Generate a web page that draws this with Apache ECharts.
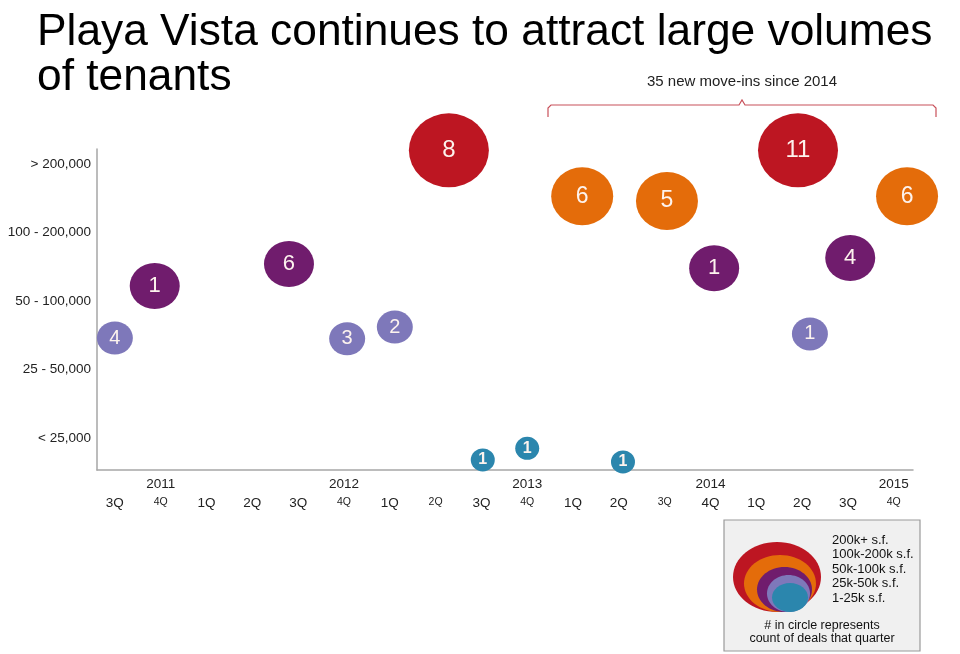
<!DOCTYPE html>
<html>
<head>
<meta charset="utf-8">
<title>Playa Vista tenants</title>
<style>
  html, body { margin: 0; padding: 0; background: #fff; }
  #chart { width: 960px; height: 654px; }
</style>
</head>
<body>
<div id="chart"></div>
<script src="https://cdn.jsdelivr.net/npm/echarts@6/dist/echarts.min.js"></script>
<script>
// quarters along the bottom, 3Q 2011 .. 4Q 2015
var quarterLabels = ['3Q', '4Q', '1Q', '2Q', '3Q', '4Q', '1Q', '2Q', '3Q', '4Q',
                     '1Q', '2Q', '3Q', '4Q', '1Q', '2Q', '3Q', '4Q'];
var yearLabels = ['2011', '2012', '2013', '2014', '2015'];
var yearAt = [1, 5, 9, 13, 17];   // quarter index that carries the year
var sizeLabels = ['< 25,000', '25 - 50,000', '50 - 100,000', '100 - 200,000', '> 200,000'];

// [quarter index, size band, deals that quarter]
var deals1to25 = [[8.03, -0.32, 1], [9.0, -0.15, 1], [11.09, -0.35, 1]];
var deals25to50 = [[0, 1.46, 4], [5.07, 1.45, 3], [6.11, 1.62, 2], [15.17, 1.52, 1]];
var deals50to100 = [[0.87, 2.22, 1], [3.8, 2.54, 6], [13.08, 2.48, 1], [16.05, 2.63, 4]];
var deals100to200 = [[10.2, 3.53, 6], [12.05, 3.46, 5], [17.29, 3.53, 6]];
var deals200plus = [[7.29, 4.2, 8], [14.91, 4.2, 11]];

var legendNames = ['200k+ s.f.', '100k-200k s.f.', '50k-100k s.f.', '25k-50k s.f.', '1-25k s.f.'];

var font = '"Liberation Sans", Arial, sans-serif';
var RED = '#bd1622', ORANGE = '#e46c0a', PURPLE = '#701c6d', LILAC = '#7e78ba', TEAL = '#2b86ad';
var smallTicks = [1, 5, 7, 9, 12, 17];

var myChart = echarts.init(document.getElementById('chart'));

function bubbles(name, data, color, size, fs, bold) {
    return {
        name: name,
        type: 'scatter',
        data: data,
        clip: false,
        symbol: 'circle',
        symbolSize: size,
        itemStyle: { color: color, opacity: 1 },
        label: {
            show: true,
            position: 'inside',
            formatter: function (p) { return p.value[2]; },
            color: '#fdf3ee',
            fontFamily: font,
            fontSize: fs,
            fontWeight: bold ? 'bold' : 'normal'
        },
        emphasis: { disabled: true }
    };
}

var option = {
    backgroundColor: '#fff',
    animation: false,
    title: {
        text: 'Playa Vista continues to attract large volumes\nof tenants',
        left: 32,
        top: 5,
        textStyle: {
            fontFamily: font,
            fontSize: 44.3,
            lineHeight: 45,
            fontWeight: 'normal',
            color: '#000'
        }
    },
    grid: { left: 97, right: 47, top: 149, bottom: 184 },
    xAxis: {
        type: 'value',
        min: -0.39,
        max: 17.42,
        splitLine: { show: false },
        axisTick: { show: false },
        axisLine: { onZero: false, lineStyle: { color: '#a6a6a6', width: 1.5 } },
        axisLabel: {
            customValues: quarterLabels.map(function (q, i) { return i; }),
            margin: 5,
            formatter: function (v) {
                var i = Math.round(v);
                var y = yearAt.indexOf(i);
                var top = y >= 0 ? '{y|' + yearLabels[y] + '}' : '{y| }';
                var st = smallTicks.indexOf(i) >= 0 ? 's' : 'q';
                return top + '\n{' + st + '|' + quarterLabels[i] + '}';
            },
            rich: {
                y: { fontFamily: font, fontSize: 13.5, lineHeight: 19, color: '#222' },
                q: { fontFamily: font, fontSize: 13.5, lineHeight: 19, color: '#222' },
                s: { fontFamily: font, fontSize: 10.5, lineHeight: 17, color: '#222' }
            }
        }
    },
    yAxis: {
        type: 'value',
        min: -0.467,
        max: 4.22,
        splitLine: { show: false },
        axisTick: { show: false },
        axisLine: { show: true, onZero: false, lineStyle: { color: '#a6a6a6', width: 1.5 } },
        axisLabel: {
            customValues: [0, 1, 2, 3, 4],
            margin: 6,
            fontFamily: font,
            fontSize: 13.5,
            color: '#222',
            formatter: function (v) { return sizeLabels[Math.round(v)]; }
        }
    },
    series: [
        bubbles('1-25k', deals1to25, TEAL, [24, 23], 16, true),
        bubbles('25k-50k', deals25to50, LILAC, [36, 33], 20),
        bubbles('50k-100k', deals50to100, PURPLE, [50, 46], 22),
        bubbles('100k-200k', deals100to200, ORANGE, [62, 58], 23),
        bubbles('200k+', deals200plus, RED, [80, 74], 24)
    ],
    graphic: [
        // bracket over the 2014+ quarters
        {
            type: 'polyline',
            shape: { points: [[548, 117], [548, 108], [551, 105], [739, 105], [742, 100],
                              [745, 105], [933, 105], [936, 108], [936, 117]] },
            style: { stroke: '#c8505a', lineWidth: 1.2, fill: null }
        },
        {
            type: 'text', x: 742, y: 82,
            style: { text: '35 new move-ins since 2014', fontFamily: font, fontSize: 15,
                     fill: '#222', textAlign: 'center', textVerticalAlign: 'middle' }
        },
        // size key
        {
            type: 'rect',
            shape: { x: 724, y: 520, width: 196, height: 131 },
            style: { fill: '#f0f0f0', stroke: '#9a9a9a', lineWidth: 1.2 }
        },
        { type: 'ellipse', shape: { cx: 777, cy: 577, rx: 44, ry: 35 }, style: { fill: RED } },
        { type: 'ellipse', shape: { cx: 780, cy: 583.5, rx: 36, ry: 28.5 }, style: { fill: ORANGE } },
        { type: 'ellipse', shape: { cx: 784.5, cy: 589.5, rx: 27.5, ry: 22.5 }, style: { fill: PURPLE } },
        { type: 'ellipse', shape: { cx: 788.5, cy: 593.5, rx: 21.5, ry: 18.5 }, style: { fill: LILAC } },
        { type: 'ellipse', shape: { cx: 790, cy: 597.5, rx: 18, ry: 14.5 }, style: { fill: TEAL } }
    ].concat(legendNames.map(function (t, i) {
        return {
            type: 'text', x: 832, y: 540 + i * 14.5,
            style: { text: t, fontFamily: font, fontSize: 13, fill: '#111',
                     textVerticalAlign: 'middle' }
        };
    })).concat([
        {
            type: 'text', x: 822, y: 626,
            style: { text: '# in circle represents', fontFamily: font, fontSize: 12.5,
                     fill: '#111', textAlign: 'center', textVerticalAlign: 'middle' }
        },
        {
            type: 'text', x: 822, y: 639,
            style: { text: 'count of deals that quarter', fontFamily: font, fontSize: 12.5,
                     fill: '#111', textAlign: 'center', textVerticalAlign: 'middle' }
        }
    ])
};

myChart.setOption(option);
</script>
</body>
</html>
